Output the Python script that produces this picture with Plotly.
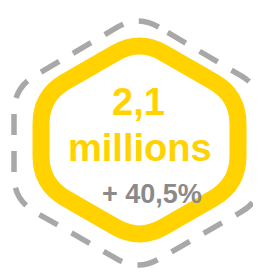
import plotly.graph_objects as go

# Content
value_label = ["2,1", "millions"]
change_label = ["+ 40,5%"]

W, H = 261, 274
OFF = 8  # default page body margin

def hex_path(cx, top, bottom, left, right, v_top, v_bot, r):
    pts = [(cx, top), (left, v_top), (left, v_bot), (cx, bottom), (right, v_bot), (right, v_top)]
    n = len(pts)
    segs = []
    for i in range(n):
        p0 = pts[i - 1]
        p1 = pts[i]
        p2 = pts[(i + 1) % n]
        def towards(a, b, d):
            dx, dy = b[0] - a[0], b[1] - a[1]
            L = (dx * dx + dy * dy) ** 0.5
            return (a[0] + dx / L * d, a[1] + dy / L * d)
        a = towards(p1, p0, r)
        b = towards(p1, p2, r)
        segs.append((a, p1, b))
    d = "M %.2f,%.2f " % segs[0][0]
    for i, (a, p, b) in enumerate(segs):
        if i > 0:
            d += "L %.2f,%.2f " % a
        d += "Q %.2f,%.2f %.2f,%.2f " % (p[0], p[1], b[0], b[1])
    d += "Z"
    return d

fig = go.Figure()
fig.add_trace(go.Scatter(x=[OFF, W], y=[OFF, H], mode="markers", marker=dict(opacity=0), hoverinfo="skip", showlegend=False))

fig.add_shape(type="path", xref="x", yref="y",
              path=hex_path(138, 15, 271, 14, 262, 88, 200, 24),
              line=dict(color="#A8A8A8", width=5.5, dash="21px,16px"))
fig.add_shape(type="path", xref="x", yref="y",
              path=hex_path(139.5, 39, 241, 41, 238, 96, 184, 28),
              line=dict(color="#FFD200", width=17))

fig.add_annotation(x=138, y=101.5, text="<b>%s</b>" % value_label[0], showarrow=False,
                   xanchor="center", yanchor="middle",
                   font=dict(family="Liberation Sans, Arial", size=38, color="#FFD200"))
fig.add_annotation(x=140, y=148, text="<b>%s</b>" % value_label[1], showarrow=False,
                   xanchor="center", yanchor="middle",
                   font=dict(family="Liberation Sans, Arial", size=38, color="#FFD200"))
fig.add_annotation(x=151.5, y=194, text="<b>%s</b>" % change_label[0], showarrow=False,
                   xanchor="center", yanchor="middle",
                   font=dict(family="Liberation Sans, Arial", size=27, color="#8A8A8A"))

fig.update_xaxes(range=[OFF, W], visible=False, fixedrange=True)
fig.update_yaxes(range=[H, OFF], visible=False, fixedrange=True)
fig.update_layout(width=W - OFF, height=H - OFF, margin=dict(l=0, r=0, t=0, b=0),
                  paper_bgcolor="white", plot_bgcolor="white", showlegend=False)

fig.write_html("out.html", config={"displayModeBar": False})
